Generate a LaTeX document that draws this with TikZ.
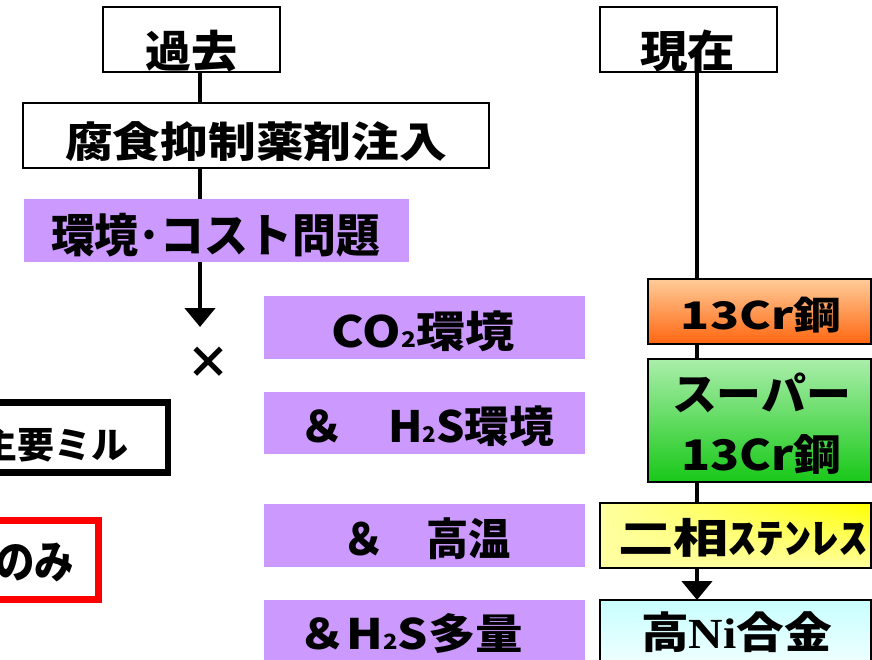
\documentclass[tikz,border=0pt]{standalone}
\usepackage{fontspec}
\setmainfont{Noto Sans CJK JP}
\newfontfamily\serifNi{Liberation Serif}
\usetikzlibrary{arrows.meta,shadings}
\newsavebox\inkbox
\newcommand\Shift[3]{% dx, raise, content
  \sbox\inkbox{#3}%
  \hspace*{#1}\raisebox{#2}[\ht\inkbox][\dp\inkbox]{\usebox\inkbox}\hspace*{-#1}}
\newcommand\Ink[5]{% W, H, dx, raise, text
  \Shift{#3}{#4}{\resizebox*{#1}{#2}{\bfseries #5}}}
\newcommand\subtwo{\scalebox{0.5}{2}}
\definecolor{purp}{HTML}{CC99FF}
\definecolor{orTop}{HTML}{FFCC99}
\definecolor{orBot}{HTML}{FF6610}
\definecolor{grTop}{HTML}{AAEEAA}
\definecolor{grBot}{HTML}{18C818}
\definecolor{yeLight}{HTML}{FFFFA0}
\definecolor{yeStrong}{HTML}{FFFF00}
\definecolor{cyTop}{HTML}{C8FFFF}
\definecolor{cyBot}{HTML}{F0FFFF}
\tikzset{
  wbox/.style={rectangle, inner sep=0pt, outer sep=0pt, draw=black, line width=1.3pt},
  pbox/.style={rectangle, inner sep=0pt, outer sep=0pt, fill=purp},
  conn/.style={draw=black, line width=4.5pt},
  arr/.style={conn, -{Triangle[width=30pt,length=19pt]}},
}
\begin{document}
\begin{tikzpicture}[x=1pt, y=-1pt]
\useasboundingbox (0,0) rectangle (872,659);
\clip (0,0) rectangle (872,659);
\coordinate (colL) at (200,0);
\coordinate (colR) at (697,0);
\coordinate (tipL) at (200,327);

% left column
\node[wbox, minimum width=177pt, minimum height=65pt] (kako) at (191.5,39.5)
  {\Ink{92pt}{42pt}{-0.5pt}{-11.5pt}{過去}};
\node[wbox, minimum width=466pt, minimum height=65pt] (fushoku) at (256,135.5)
  {\Ink{382pt}{40pt}{0pt}{-6.5pt}{腐食抑制薬剤注入}};
\node[pbox, minimum width=385pt, minimum height=63pt] (kcost) at (216.5,230.5)
  {\Ink{329pt}{44pt}{-1pt}{-4.5pt}{環境･コスト問題}};
\node[inner sep=0pt, font=\fontsize{44}{44}\selectfont\bfseries] (cross) at (208,362.5) {×};

\draw[conn] (kako.south -| colL) -- (fushoku.north -| colL);
\draw[conn] (fushoku.south -| colL) -- (kcost.north -| colL);
\draw[arr] (kcost.south -| colL) -- (tipL);

% cut-off boxes at the left edge
\node[rectangle, inner sep=0pt, draw=black, line width=6.5pt, minimum width=265pt, minimum height=70.4pt] (mill) at (35.6,437.5)
  {\Ink{148pt}{35pt}{19pt}{-7pt}{主要ミル}};
\node[rectangle, inner sep=0pt, draw=red, line width=7pt, minimum width=198.5pt, minimum height=79pt] (only) at (-0.75,560)
  {\Ink{79pt}{39pt}{35.75pt}{-2.5pt}{のみ}};

% middle purple conditions
\node[pbox, minimum width=321pt, minimum height=63pt] (p1) at (424.5,327.5)
  {\Ink{182pt}{41pt}{-1.5pt}{-4pt}{CO\subtwo 環境}};
\node[pbox, minimum width=321pt, minimum height=62pt] (p2) at (424.5,423)
  {\Ink{255pt}{41pt}{2pt}{-3.5pt}{＆　H\subtwo S環境}};
\node[pbox, minimum width=321pt, minimum height=63pt] (p3) at (424.5,535.5)
  {\Ink{169pt}{42pt}{2pt}{-3.5pt}{＆　高温}};
\node[pbox, minimum width=321pt, minimum height=63pt] (p4) at (424.5,631.5)
  {\Ink{224pt}{40pt}{-13.5pt}{-1.5pt}{＆H\subtwo S多量}};

% right column
\node[wbox, minimum width=177pt, minimum height=65pt] (genzai) at (688.5,39.5)
  {\Ink{95pt}{42pt}{-1pt}{-11.5pt}{現在}};
\node[wbox, top color=orTop, bottom color=orBot, minimum width=223pt, minimum height=65pt] (cr) at (759.5,311.5)
  {\Ink{160pt}{36pt}{1.5pt}{-4pt}{13Cr鋼}};
\node[wbox, top color=grTop, bottom color=grBot, minimum width=223pt, minimum height=123pt,
      font=\fontsize{40}{60}\selectfont] (super) at (759.5,420.5)
  {\Shift{2pt}{-7.5pt}{\begin{tabular}{@{}c@{}}\Ink{179pt}{40pt}{0pt}{0pt}{スーパー}\\\Ink{160pt}{40pt}{0pt}{0pt}{13Cr鋼}\end{tabular}}};
\node[wbox, upper right=yeStrong, upper left=yeLight, lower left=yeLight, lower right=yeLight,
      minimum width=271pt, minimum height=65pt] (nisou) at (735.5,535.5)
  {\Ink{249pt}{39pt}{7pt}{-2pt}{二相ｽﾃﾝﾚｽ}};
\node[wbox, top color=cyTop, bottom color=cyBot, minimum width=271pt, minimum height=65pt] (hini) at (735.5,632.5)
  {\Ink{191pt}{41pt}{1pt}{0pt}{高{\serifNi\bfseries Ni}合金}};

\draw[conn] (genzai.south -| colR) -- (cr.north -| colR);
\draw[conn] (cr.south -| colR) -- (super.north -| colR);
\draw[conn] (super.south -| colR) -- (nisou.north -| colR);
\draw[arr] (nisou.south -| colR) -- (hini.north -| colR);
\end{tikzpicture}
\end{document}
